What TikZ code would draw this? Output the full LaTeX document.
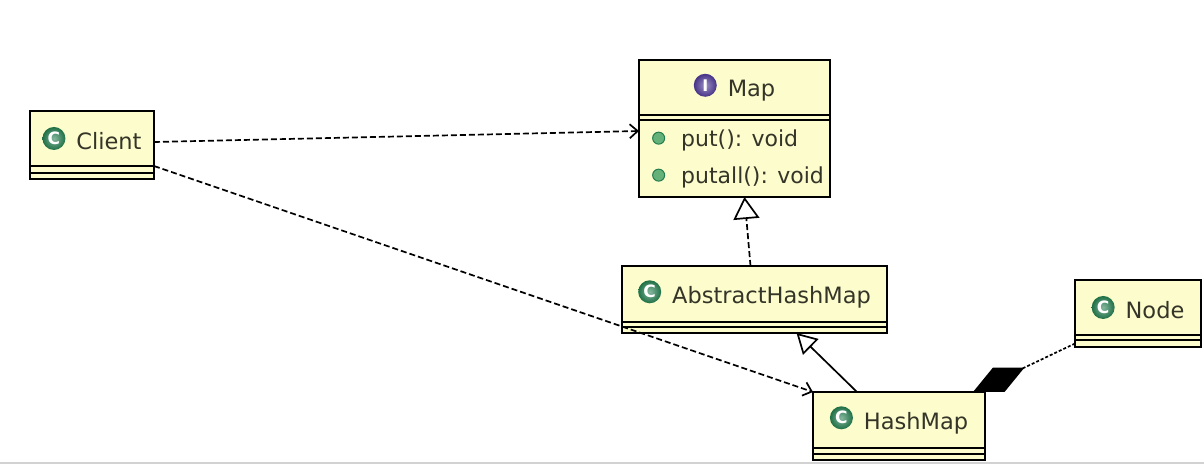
\documentclass[tikz,border=0pt]{standalone}
\usepackage{fontspec}
\setmainfont{DejaVu Sans}
\usepackage{tikz}
\usetikzlibrary{
  positioning,
  arrows.meta,
  calc,
  }

\definecolor{umlfill}{RGB}{252,252,204}
\definecolor{umltext}{RGB}{52,52,40}
\definecolor{cgreen}{RGB}{34,124,78}
\definecolor{ipurple}{RGB}{78,56,150}
\definecolor{mgreen}{RGB}{100,178,122}

\newcommand{\classicon}{\tikz[baseline={([yshift=-0.5em]ci.center)}]\node[circle, draw=none, inner color=cgreen!55!white, outer color=cgreen!90!black, text=white, minimum size=23pt, inner sep=0pt, font=\bfseries\fontsize{17}{17}\selectfont] (ci) {C};}
\newcommand{\ifaceicon}{\tikz[baseline={([yshift=-0.5em]ii.center)}]\node[circle, draw=none, inner color=ipurple!55!white, outer color=ipurple!90!black, text=white, minimum size=23pt, inner sep=0pt, font=\bfseries\fontsize{16}{16}\selectfont] (ii) {I};}
\newcommand{\methdot}{\tikz[baseline={([yshift=-0.36em]md.center)}]\node[circle, draw=cgreen, line width=1pt, fill=mgreen, minimum size=12pt, inner sep=0pt] (md) {};}

\begin{document}
\begin{tikzpicture}[x=1pt, y=-1pt,
                    box/.style={draw=black, line width=1.8pt, fill=umlfill, inner sep=0pt, outer sep=0pt},
                    head/.style={box, text=umltext, font=\fontsize{22.5}{27}\selectfont},
                    slot/.style={box},
                    opbox/.style={box, text=umltext, align=left, font=\fontsize{22}{37}\selectfont},
                    dep/.style={line width=1.7pt, dash pattern=on 6pt off 3pt, -{Straight Barb[length=8pt, width=14pt]}},
                    real/.style={line width=1.7pt, dash pattern=on 6pt off 3pt, -{Triangle[open, length=22pt, width=26pt]}},
                    gen/.style={line width=1.7pt, -{Triangle[open, length=20pt, width=22pt]}},
                    comp/.style={line width=1.7pt, dash pattern=on 3pt off 2pt, {Diamond[length=57pt, width=27pt]}-}]
                \useasboundingbox[fill=white] (0,0) rectangle (1204,464);
                \draw[gray!35, line width=2pt] (0,463) -- (1204,463);

                \node[head, minimum width=124, minimum height=55] (client) at (92,138.5) {\classicon\hspace{11pt}Client};
                \node[slot, minimum width=124, minimum height=7, below=0pt of client] (clisl1) {};
                \node[slot, minimum width=124, minimum height=6, below=0pt of clisl1] (clisl2) {};

                \node[head, minimum width=191, minimum height=55] (map) at (734.5,87.5) {\ifaceicon\hspace{11pt}Map};
                \node[slot, minimum width=191, minimum height=5, below=0pt of map] (mapattr) {};
                \node[opbox, minimum width=191, minimum height=77, below=0pt of mapattr] (mapops)
                    {\hspace*{7pt}\methdot\hspace{16pt}put(): void\\\hspace*{7pt}\methdot\hspace{16pt}putall(): void};

                \node[head, minimum width=265, minimum height=56] (abstract) at (754.5,294) {\classicon\hspace{11pt}AbstractHashMap};
                \node[slot, minimum width=265, minimum height=5, below=0pt of abstract] (abssl1) {};
                \node[slot, minimum width=265, minimum height=6, below=0pt of abssl1] (abssl2) {};

                \node[head, minimum width=172, minimum height=56] (hashmap) at (899,420) {\classicon\hspace{11pt}HashMap};
                \node[slot, minimum width=172, minimum height=6, below=0pt of hashmap] (hmsl1) {};
                \node[slot, minimum width=172, minimum height=6, below=0pt of hmsl1] (hmsl2) {};

                \node[head, minimum width=126, minimum height=55] (nodec) at (1138,307.5) {\classicon\hspace{11pt}Node};
                \node[slot, minimum width=126, minimum height=5, below=0pt of nodec] (nodesl1) {};
                \node[slot, minimum width=126, minimum height=7, below=0pt of nodesl1] (nodesl2) {};

                \draw[dep] ([yshift=-3.5]client.east) -- ([yshift=-11]mapops.north west);
                \draw[dep] (client.south east) -- (hashmap.north west);
                \draw[real] ([xshift=-4]abstract.north) -- ([xshift=10]mapops.south);
                \draw[gen] ([xshift=-42]hashmap.north) -- ([xshift=42]abssl2.south);
                \draw[comp] ([xshift=-12]hashmap.north east) -- (nodesl2.west);
\end{tikzpicture}
\end{document}
